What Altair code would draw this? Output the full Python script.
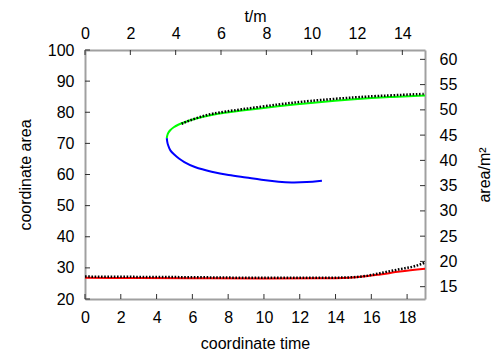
import altair as alt
import pandas as pd

# lower red curve
red_x = [0, 3, 6, 10, 13, 14.8, 15.7, 16.5, 17.6, 19.0]
red_y = [26.8, 26.75, 26.7, 26.6, 26.65, 26.85, 27.3, 27.9, 28.8, 29.7]

# lower black dotted curve
dlow_x = [0, 3, 6, 10, 13, 14.8, 15.7, 16.5, 17.6, 18.4, 19.0]
dlow_y = [27.2, 27.1, 27.0, 26.8, 26.8, 26.95, 27.4, 28.3, 29.6, 30.5, 31.7]

# upper green branch
green_x = [4.57, 4.59, 4.66, 4.76, 4.95, 5.2, 5.5, 6.2, 7.0, 8.67, 10.9, 12.4, 15.2, 17.0, 19.0]
green_y = [71.7, 72.5, 73.5, 74.3, 75.2, 76.0, 76.7, 78.0, 79.2, 80.5, 82.0, 82.9, 84.3, 84.9, 85.4]

# lower blue branch
blue_x = [4.57, 4.59, 4.64, 4.76, 5.0, 5.25, 5.5, 6.06, 7.1, 8.0, 9.05, 9.8, 10.9, 11.5, 12.4, 13.24]
blue_y = [71.7, 70.6, 69.4, 67.6, 66.3, 65.1, 64.1, 62.4, 60.8, 59.8, 59.0, 58.3, 57.6, 57.4, 57.5, 58.0]

# upper black dotted curve
dup_x = [5.4, 5.8, 6.5, 7.0, 8.67, 10.9, 12.4, 15.2, 17.0, 18.56, 19.0]
dup_y = [76.3, 77.3, 78.6, 79.5, 80.9, 82.6, 83.6, 84.9, 85.4, 85.8, 85.9]

# axes
bottom_ticks = [0, 2, 4, 6, 8, 10, 12, 14, 16, 18]
left_ticks = [20, 30, 40, 50, 60, 70, 80, 90, 100]
top_domain = [0, 15]
top_ticks = [0, 2, 4, 6, 8, 10, 12, 14]
right_domain = [12.56, 61.85]
right_ticks = [15, 20, 25, 30, 35, 40, 45, 50, 55, 60]

FONT = "Liberation Sans"
W, H = 340, 249
TICK_LEN = 5
TICK_COLOR = "#303030"


def df(xs, ys):
    return pd.DataFrame({"x": xs, "y": ys, "i": list(range(len(xs)))})


common = dict(
    labelFont=FONT, labelFontSize=16, titleFont=FONT, titleFontSize=16,
    titleFontWeight="normal", labelColor="black", titleColor="black",
    domainColor="#a0a0a0", domainWidth=2, ticks=False, tickSize=0,
    grid=False, labelFlush=False, labelOverlap=False,
)

x_axis = alt.Axis(title="coordinate time", orient="bottom", values=bottom_ticks,
                  labelPadding=10, titlePadding=10, **common)
y_axis = alt.Axis(title="coordinate area", orient="left", values=left_ticks,
                  labelPadding=11, titlePadding=14, **common)
t_axis = alt.Axis(title="t/m", orient="top", values=top_ticks,
                  labelPadding=9, titlePadding=1, **common)
a_axis = alt.Axis(title="area/m²", orient="right", values=right_ticks,
                  labelPadding=14, titlePadding=20, titleAngle=270,
                  titleBaseline="top", **common)

xs = alt.Scale(domain=[0, 19], nice=False, zero=False)
ys = alt.Scale(domain=[20, 100], nice=False, zero=False)
ts = alt.Scale(domain=top_domain, nice=False, zero=False)
as_ = alt.Scale(domain=right_domain, nice=False, zero=False)


def line(data, color, dotted=False, interp="basis"):
    if dotted:
        mk = alt.Chart(data).mark_line(color="black", strokeWidth=2.5,
                                       strokeDash=[1.6, 1.6], interpolate=interp, clip=True)
    else:
        mk = alt.Chart(data).mark_line(color=color, strokeWidth=2,
                                       interpolate=interp, clip=True)
    return mk.encode(
        x=alt.X("x:Q", scale=xs, axis=x_axis),
        y=alt.Y("y:Q", scale=ys, axis=y_axis),
        order="i:Q",
    )


left_tick_marks = alt.Chart(pd.DataFrame({"y": left_ticks})).mark_rule(
    color=TICK_COLOR, strokeWidth=1
).encode(y=alt.Y("y:Q", scale=ys, axis=y_axis), x=alt.value(0), x2=alt.value(TICK_LEN))

bottom_tick_marks = alt.Chart(pd.DataFrame({"x": bottom_ticks})).mark_rule(
    color=TICK_COLOR, strokeWidth=1
).encode(x=alt.X("x:Q", scale=xs, axis=x_axis), y=alt.value(H), y2=alt.value(H - TICK_LEN))

main = alt.layer(
    left_tick_marks,
    bottom_tick_marks,
    line(df(red_x, red_y), "#ff0000", interp="monotone"),
    line(df(green_x, green_y), "#00ff00"),
    line(df(blue_x, blue_y), "#0000ff"),
    line(df(dlow_x, dlow_y), "black", dotted=True, interp="monotone"),
    line(df(dup_x, dup_y), "black", dotted=True),
)

sec_points = alt.Chart(pd.DataFrame({"t": top_domain, "a": right_domain})).mark_point(
    opacity=0
).encode(
    x=alt.X("t:Q", scale=ts, axis=t_axis),
    y=alt.Y("a:Q", scale=as_, axis=a_axis),
)

top_tick_marks = alt.Chart(pd.DataFrame({"t": top_ticks})).mark_rule(
    color=TICK_COLOR, strokeWidth=1
).encode(x=alt.X("t:Q", scale=ts, axis=t_axis), y=alt.value(0), y2=alt.value(TICK_LEN))

right_tick_marks = alt.Chart(pd.DataFrame({"a": right_ticks})).mark_rule(
    color=TICK_COLOR, strokeWidth=1
).encode(y=alt.Y("a:Q", scale=as_, axis=a_axis), x=alt.value(W), x2=alt.value(W - TICK_LEN))

secondary = alt.layer(sec_points, top_tick_marks, right_tick_marks)

chart = alt.layer(main, secondary).resolve_scale(
    x="independent", y="independent"
).properties(
    width=W, height=H,
    autosize=alt.AutoSizeParams(type="none"),
    padding={"left": 77, "top": 42, "right": 67, "bottom": 51},
).configure_view(stroke=None)

chart.save("out.html", embed_options={"renderer": "svg", "actions": False})
